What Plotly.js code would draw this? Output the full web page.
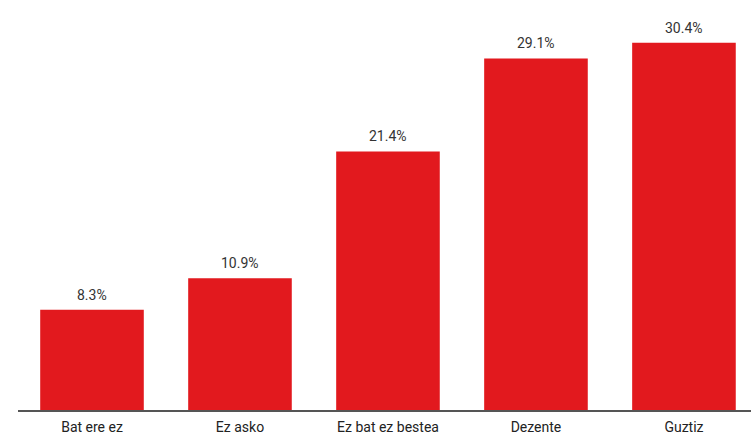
<!DOCTYPE html>
<html><head><meta charset="utf-8">
<script src="https://cdn.plot.ly/plotly-3.0.1.min.js"></script>
<style>html,body{margin:0;padding:0;background:#fff}</style>
</head><body><div id="chart" style="width:751px;height:434px"></div>
<script>
const categories = ["Bat ere ez", "Ez asko", "Ez bat ez bestea", "Dezente", "Guztiz"];
const values = [8.3, 10.9, 21.4, 29.1, 30.4];
const labels = ["8.3%", "10.9%", "21.4%", "29.1%", "30.4%"];

const annotations = categories.map((c, i) => ({
  x: c, y: values[i], text: labels[i],
  xref: "x", yref: "y", xanchor: "center", yanchor: "bottom",
  yshift: 5, showarrow: false,
  font: {family: "Roboto, sans-serif", size: 14, color: "#333"}
}));

Plotly.newPlot("chart", [{
  type: "bar",
  x: categories,
  y: values,
  marker: {color: "#e2191e"},
  width: 0.7,
  hoverinfo: "none"
}], {
  width: 751, height: 434,
  margin: {l: 18, r: 0, t: 0, b: 24},
  paper_bgcolor: "#fff", plot_bgcolor: "#fff",
  showlegend: false,
  annotations: annotations,
  xaxis: {
    type: "category",
    range: [-0.5, 4.453],
    showline: true, linecolor: "#555", linewidth: 2,
    ticks: "outside", ticklen: 3, tickcolor: "rgba(0,0,0,0)",
    showgrid: false,
    tickfont: {family: "Roboto, sans-serif", size: 14, color: "#222"}
  },
  yaxis: {
    range: [0, 33.94],
    visible: false, showgrid: false, zeroline: false
  }
}, {staticPlot: true});
</script></body></html>
